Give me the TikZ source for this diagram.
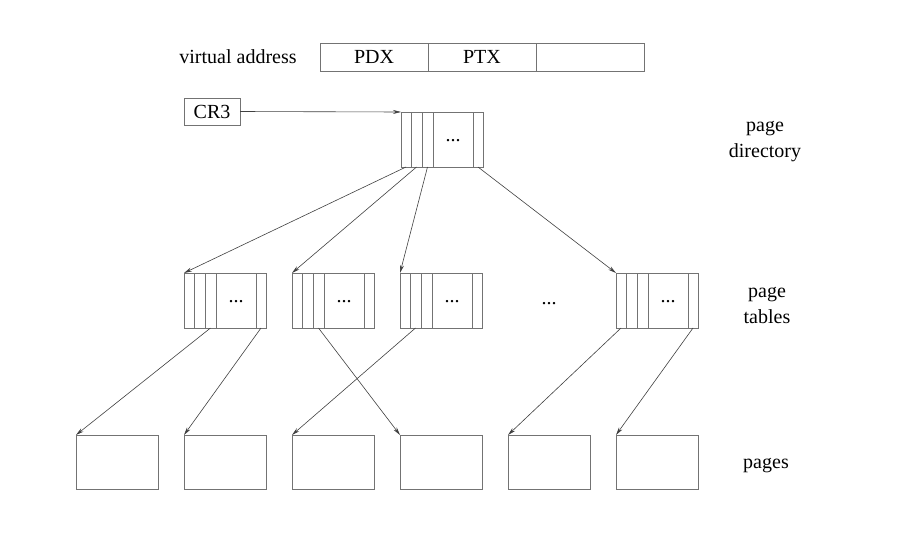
\documentclass[tikz,border=0pt]{standalone}
\usepackage{fontspec}
\setmainfont{Liberation Serif}
\usetikzlibrary{arrows.meta}

\tikzset{
  box/.style={draw=black!55, line width=0.9pt, inner sep=0pt, outer sep=0pt},
  tbl/.style={box, minimum width=82pt, minimum height=55pt, anchor=north west},
  pg/.style={box, minimum width=82pt, minimum height=54pt, anchor=north west},
  cell/.style={draw=black!55, line width=0.9pt},
  ptr/.style={draw=black!75, line width=0.6pt, -{Stealth[length=8pt,width=4pt]}},
}

% a page table with four narrow entries and a wide one
\newcommand{\pgtable}[3]{
  \node[tbl] (#1) at (#2,#3) {};
  \foreach \dx in {10,21,32,72}
    \draw[cell] ([xshift=\dx pt]#1.north west) -- ([xshift=\dx pt]#1.south west);
  \node (#1-dots) at ([xshift=52pt,yshift=-1pt]#1.west) {...};
  \coordinate (#1-1) at ([xshift=5pt]#1.south west);
  \coordinate (#1-2) at ([xshift=15.5pt]#1.south west);
  \coordinate (#1-3) at ([xshift=26.5pt]#1.south west);
  \coordinate (#1-5) at ([xshift=77pt]#1.south west);
}

\begin{document}
\begin{tikzpicture}[x=1pt, y=-1pt,
    every node/.append style={font=\fontsize{20}{26}\selectfont, align=center}]
  \useasboundingbox (0,0) rectangle (901,541);

  % virtual address
  \node (va) at (238,57) {virtual address};
  \node[box, minimum width=108pt, minimum height=28pt, anchor=north west] (pdx) at (320,43) {PDX};
  \node[box, minimum width=108pt, minimum height=28pt, anchor=north west] (ptx) at (428,43) {PTX};
  \node[box, minimum width=108pt, minimum height=28pt, anchor=north west] (off) at (536,43) {};

  \node[box, minimum width=56pt, minimum height=27pt] (cr3) at (212,111.5) {CR3};

  % page directory and page tables
  \pgtable{dir}{401}{112}
  \pgtable{t1}{184}{273}
  \pgtable{t2}{292}{273}
  \pgtable{t3}{400}{273}
  \pgtable{t5}{616}{273}
  \node (tdots) at (549,304) {...};

  % pages
  \foreach \i/\x in {1/76,2/184,3/292,4/400,5/508,6/616}
    \node[pg] (p\i) at (\x,435) {};

  % labels
  \node (ldir) at (765,142) {page\\directory};
  \node (ltbl) at (767,305) {page\\tables};
  \node (lpg) at (766,466) {pages};

  \draw[ptr] (cr3.east) -- (dir.north west);
  \draw[ptr] (dir-1) -- (t1.north west);
  \draw[ptr] (dir-2) -- (t2.north west);
  \draw[ptr] (dir-3) -- (t3.north west);
  \draw[ptr] (dir-5) -- (t5.north west);

  \draw[ptr] (t1-3) -- (p1.north west);
  \draw[ptr] (t1-5) -- (p2.north west);
  \draw[ptr] (t2-3) -- (p4.north west);
  \draw[ptr] (t3-2) -- (p3.north west);
  \draw[ptr] (t5-1) -- (p5.north west);
  \draw[ptr] (t5-5) -- (p6.north west);
\end{tikzpicture}
\end{document}
